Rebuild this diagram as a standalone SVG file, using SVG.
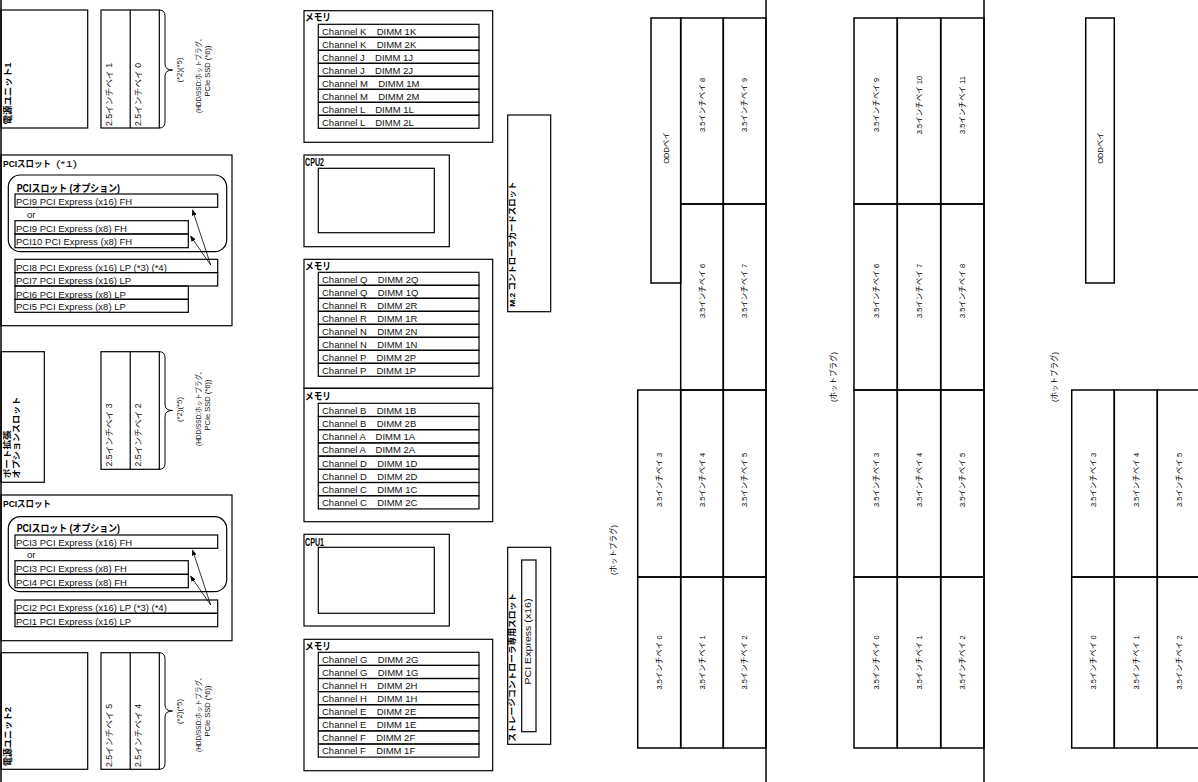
<svg xmlns="http://www.w3.org/2000/svg" width="1198" height="782" viewBox="0 0 1198 782">
<style>
text{font-family:"Liberation Sans","Noto Sans CJK JP",sans-serif;fill:#111}
.bx{fill:none;stroke:#000;stroke-width:1.2}
.bay{fill:none;stroke:#000;stroke-width:1.5}
.ln{stroke:#000;stroke-width:1.5}
.ttl{font-weight:bold;font-size:10px;fill:#000}
.t9{font-weight:bold;font-size:9px;fill:#000}
.vt{font-weight:bold;font-size:8px;fill:#000}
.n{font-size:9.5px}
.n25{font-size:8.5px}
.sm{font-size:6.5px;text-anchor:middle}
.bt{font-size:7.5px;text-anchor:middle;fill:#000}
.ar{stroke:#000;stroke-width:0.8;fill:none}
.brace{stroke:#000;stroke-width:1;fill:none}
</style>
<defs>
<marker id="ah" markerWidth="6" markerHeight="6" refX="5.5" refY="3" orient="auto" markerUnits="userSpaceOnUse"><path d="M0,0.6 L6,3 L0,5.4 Z" fill="#000"/></marker>
</defs>
<line class="ln" x1="1" y1="0" x2="1" y2="782"/>

<g id="psu1"><rect class="bx" x="1" y="10" width="86.7" height="118"/><text class="t9" transform="translate(10.5,124.5) rotate(-90)" textLength="62" lengthAdjust="spacingAndGlyphs">電源ユニット1</text></g>
<g id="bay25-01">
<rect class="bx" x="101" y="10" width="58.3" height="118"/><line class="bx" x1="130.2" y1="10" x2="130.2" y2="128"/>
<text class="n25" transform="translate(111.5,126) rotate(-90)" textLength="63" lengthAdjust="spacingAndGlyphs">2.5インチベイ 1</text>
<text class="n25" transform="translate(140.7,126) rotate(-90)" textLength="63" lengthAdjust="spacingAndGlyphs">2.5インチベイ 0</text>
<path class="brace" d="M159.3,10 Q165,10 165,16 L165,64 Q165,70 172.5,70 Q165,70 165,76 L165,122 Q165,128 159.3,128"/>
<text class="sm" transform="translate(182,70) rotate(-90)" textLength="25" lengthAdjust="spacingAndGlyphs">(*2)(*5)</text>
<text class="sm" transform="translate(201,74) rotate(-90)" textLength="78" lengthAdjust="spacingAndGlyphs">(HDD/SSD:ホットプラグ、</text>
<text class="sm" transform="translate(209.5,71) rotate(-90)" textLength="51" lengthAdjust="spacingAndGlyphs">PCIe SSD (*6))</text>
</g>

<g id="pci-top">
<rect class="bx" x="1" y="155" width="231" height="170.7"/>
<text class="t9" x="3" y="167" textLength="48" lengthAdjust="spacingAndGlyphs">PCIスロット</text>
<text class="n" x="56" y="167" textLength="21" lengthAdjust="spacingAndGlyphs">(*1)</text>
<rect class="bx" x="8.3" y="175" width="218.4" height="76.7" rx="12"/>
<text class="ttl" x="16.7" y="191.5" textLength="103.3" lengthAdjust="spacingAndGlyphs">PCIスロット (オプション)</text>
<rect class="bx" x="15" y="194" width="202.7" height="13.3"/><text class="n" x="16" y="205">PCI9 PCI Express (x16) FH</text>
<text class="n" x="27" y="218">or</text>
<rect class="bx" x="15" y="220.7" width="173.3" height="13.3"/><text class="n" x="16" y="232">PCI9 PCI Express (x8) FH</text>
<rect class="bx" x="15" y="234" width="173.3" height="13.7"/><text class="n" x="16" y="245.3">PCI10 PCI Express (x8) FH</text>
<rect class="bx" x="15" y="259.3" width="202.7" height="13.3"/><text class="n" x="16" y="270.8">PCI8 PCI Express (x16) LP (*3) (*4)</text>
<rect class="bx" x="15" y="272.6" width="202.7" height="13.4"/><text class="n" x="16" y="284">PCI7 PCI Express (x16) LP</text>
<rect class="bx" x="15" y="286" width="173.3" height="13.3"/><text class="n" x="16" y="297.5">PCI6 PCI Express (x8) LP</text>
<rect class="bx" x="15" y="299.3" width="173.3" height="13"/><text class="n" x="16" y="310.3">PCI5 PCI Express (x8) LP</text>
</g>

<g id="port-ext">
<rect class="bx" x="1" y="351.7" width="43.3" height="130.6"/>
<text class="vt" transform="translate(10,478.3) rotate(-90)" textLength="48" lengthAdjust="spacingAndGlyphs">ポート拡張</text>
<text class="vt" transform="translate(19,478.3) rotate(-90)" textLength="81.6" lengthAdjust="spacingAndGlyphs">オプションスロット</text>
</g>
<g id="bay25-23">
<rect class="bx" x="101" y="351.7" width="58.3" height="117.6"/><line class="bx" x1="130.2" y1="351.7" x2="130.2" y2="469.3"/>
<text class="n25" transform="translate(111.5,466.5) rotate(-90)" textLength="63" lengthAdjust="spacingAndGlyphs">2.5インチベイ 3</text>
<text class="n25" transform="translate(140.7,466.5) rotate(-90)" textLength="63" lengthAdjust="spacingAndGlyphs">2.5インチベイ 2</text>
<path class="brace" d="M159.3,351.7 Q165,351.7 165,357.7 L165,404.5 Q165,410.5 172.5,410.5 Q165,410.5 165,416.5 L165,463.3 Q165,469.3 159.3,469.3"/>
<text class="sm" transform="translate(182,409.5) rotate(-90)" textLength="25" lengthAdjust="spacingAndGlyphs">(*2)(*5)</text>
<text class="sm" transform="translate(201,407) rotate(-90)" textLength="78" lengthAdjust="spacingAndGlyphs">(HDD/SSD:ホットプラグ、</text>
<text class="sm" transform="translate(209.5,405) rotate(-90)" textLength="51" lengthAdjust="spacingAndGlyphs">PCIe SSD (*6))</text>
</g>

<g id="pci-bottom">
<rect class="bx" x="1" y="495" width="231" height="145.7"/>
<text class="t9" x="3" y="507" textLength="48" lengthAdjust="spacingAndGlyphs">PCIスロット</text>
<rect class="bx" x="8.3" y="516.7" width="218.4" height="75" rx="12"/>
<text class="ttl" x="16.7" y="531.7" textLength="103.3" lengthAdjust="spacingAndGlyphs">PCIスロット (オプション)</text>
<rect class="bx" x="15" y="535" width="202.7" height="13.3"/><text class="n" x="16" y="546.2">PCI3 PCI Express (x16) FH</text>
<text class="n" x="27" y="558.3">or</text>
<rect class="bx" x="15" y="560.7" width="173.3" height="13.6"/><text class="n" x="16" y="572.2">PCI3 PCI Express (x8) FH</text>
<rect class="bx" x="15" y="574.3" width="173.3" height="13.4"/><text class="n" x="16" y="585.7">PCI4 PCI Express (x8) FH</text>
<rect class="bx" x="15" y="600" width="202.7" height="13.3"/><text class="n" x="16" y="611.3">PCI2 PCI Express (x16) LP (*3) (*4)</text>
<rect class="bx" x="15" y="613.3" width="202.7" height="13.4"/><text class="n" x="16" y="624.7">PCI1 PCI Express (x16) LP</text>
</g>

<g id="psu2"><rect class="bx" x="1" y="652.7" width="86.7" height="116.6"/><text class="t9" transform="translate(10.5,766) rotate(-90)" textLength="59" lengthAdjust="spacingAndGlyphs">電源ユニット2</text></g>
<g id="bay25-45">
<rect class="bx" x="101" y="652.7" width="58.3" height="116.6"/><line class="bx" x1="130.2" y1="652.7" x2="130.2" y2="769.3"/>
<text class="n25" transform="translate(111.5,767) rotate(-90)" textLength="63" lengthAdjust="spacingAndGlyphs">2.5インチベイ 5</text>
<text class="n25" transform="translate(140.7,767) rotate(-90)" textLength="63" lengthAdjust="spacingAndGlyphs">2.5インチベイ 4</text>
<path class="brace" d="M159.3,652.7 Q165,652.7 165,658.7 L165,705 Q165,711 172.5,711 Q165,711 165,717 L165,763.3 Q165,769.3 159.3,769.3"/>
<text class="sm" transform="translate(182,711.5) rotate(-90)" textLength="25" lengthAdjust="spacingAndGlyphs">(*2)(*5)</text>
<text class="sm" transform="translate(201,713) rotate(-90)" textLength="78" lengthAdjust="spacingAndGlyphs">(HDD/SSD:ホットプラグ、</text>
<text class="sm" transform="translate(209.5,711) rotate(-90)" textLength="51" lengthAdjust="spacingAndGlyphs">PCIe SSD (*6))</text>
</g>

<g id="mem1">
<rect class="bx" x="304" y="10.7" width="188.7" height="131.6"/>
<text class="ttl" x="305" y="21" textLength="26" lengthAdjust="spacingAndGlyphs">メモリ</text>
<rect class="bx" x="318.3" y="24.3" width="160.7" height="13"/><text class="n" x="322" y="34.6" xml:space="preserve">Channel K  <tspan dx="5">DIMM 1K</tspan></text>
<rect class="bx" x="318.3" y="37.3" width="160.7" height="13"/><text class="n" x="322" y="47.6" xml:space="preserve">Channel K  <tspan dx="5">DIMM 2K</tspan></text>
<rect class="bx" x="318.3" y="50.3" width="160.7" height="13"/><text class="n" x="322" y="60.6" xml:space="preserve">Channel J  <tspan dx="5">DIMM 1J</tspan></text>
<rect class="bx" x="318.3" y="63.3" width="160.7" height="13"/><text class="n" x="322" y="73.6" xml:space="preserve">Channel J  <tspan dx="5">DIMM 2J</tspan></text>
<rect class="bx" x="318.3" y="76.3" width="160.7" height="13"/><text class="n" x="322" y="86.6" xml:space="preserve">Channel M  <tspan dx="5">DIMM 1M</tspan></text>
<rect class="bx" x="318.3" y="89.3" width="160.7" height="13"/><text class="n" x="322" y="99.6" xml:space="preserve">Channel M  <tspan dx="5">DIMM 2M</tspan></text>
<rect class="bx" x="318.3" y="102.3" width="160.7" height="13"/><text class="n" x="322" y="112.6" xml:space="preserve">Channel L  <tspan dx="5">DIMM 1L</tspan></text>
<rect class="bx" x="318.3" y="115.3" width="160.7" height="13"/><text class="n" x="322" y="125.6" xml:space="preserve">Channel L  <tspan dx="5">DIMM 2L</tspan></text>
</g>

<g id="cpu2">
<rect class="bx" x="304" y="155" width="145.3" height="91.7"/>
<text class="ttl" x="305" y="166" textLength="19" lengthAdjust="spacingAndGlyphs">CPU2</text>
<rect class="bx" x="318.3" y="168.3" width="116" height="64.4"/>
</g>

<g id="mem2">
<rect class="bx" x="304" y="259.3" width="188.7" height="129"/>
<text class="ttl" x="305" y="269.5" textLength="26" lengthAdjust="spacingAndGlyphs">メモリ</text>
<rect class="bx" x="318.3" y="272.3" width="160.7" height="13"/><text class="n" x="322" y="282.6" xml:space="preserve">Channel Q  <tspan dx="5">DIMM 2Q</tspan></text>
<rect class="bx" x="318.3" y="285.3" width="160.7" height="13"/><text class="n" x="322" y="295.6" xml:space="preserve">Channel Q  <tspan dx="5">DIMM 1Q</tspan></text>
<rect class="bx" x="318.3" y="298.3" width="160.7" height="13"/><text class="n" x="322" y="308.6" xml:space="preserve">Channel R  <tspan dx="5">DIMM 2R</tspan></text>
<rect class="bx" x="318.3" y="311.3" width="160.7" height="13"/><text class="n" x="322" y="321.6" xml:space="preserve">Channel R  <tspan dx="5">DIMM 1R</tspan></text>
<rect class="bx" x="318.3" y="324.3" width="160.7" height="13"/><text class="n" x="322" y="334.6" xml:space="preserve">Channel N  <tspan dx="5">DIMM 2N</tspan></text>
<rect class="bx" x="318.3" y="337.3" width="160.7" height="13"/><text class="n" x="322" y="347.6" xml:space="preserve">Channel N  <tspan dx="5">DIMM 1N</tspan></text>
<rect class="bx" x="318.3" y="350.3" width="160.7" height="13"/><text class="n" x="322" y="360.6" xml:space="preserve">Channel P  <tspan dx="5">DIMM 2P</tspan></text>
<rect class="bx" x="318.3" y="363.3" width="160.7" height="13"/><text class="n" x="322" y="373.6" xml:space="preserve">Channel P  <tspan dx="5">DIMM 1P</tspan></text>
</g>

<g id="mem3">
<rect class="bx" x="304" y="388.3" width="188.7" height="133.4"/>
<text class="ttl" x="305" y="400" textLength="26" lengthAdjust="spacingAndGlyphs">メモリ</text>
<rect class="bx" x="318.3" y="403.3" width="160.7" height="13.2"/><text class="n" x="322" y="413.7" xml:space="preserve">Channel B  <tspan dx="5">DIMM 1B</tspan></text>
<rect class="bx" x="318.3" y="416.5" width="160.7" height="13.2"/><text class="n" x="322" y="426.9" xml:space="preserve">Channel B  <tspan dx="5">DIMM 2B</tspan></text>
<rect class="bx" x="318.3" y="429.7" width="160.7" height="13.2"/><text class="n" x="322" y="440.1" xml:space="preserve">Channel A  <tspan dx="5">DIMM 1A</tspan></text>
<rect class="bx" x="318.3" y="442.9" width="160.7" height="13.2"/><text class="n" x="322" y="453.3" xml:space="preserve">Channel A  <tspan dx="5">DIMM 2A</tspan></text>
<rect class="bx" x="318.3" y="456.1" width="160.7" height="13.2"/><text class="n" x="322" y="466.5" xml:space="preserve">Channel D  <tspan dx="5">DIMM 1D</tspan></text>
<rect class="bx" x="318.3" y="469.3" width="160.7" height="13.2"/><text class="n" x="322" y="479.7" xml:space="preserve">Channel D  <tspan dx="5">DIMM 2D</tspan></text>
<rect class="bx" x="318.3" y="482.5" width="160.7" height="13.2"/><text class="n" x="322" y="492.9" xml:space="preserve">Channel C  <tspan dx="5">DIMM 1C</tspan></text>
<rect class="bx" x="318.3" y="495.7" width="160.7" height="13.2"/><text class="n" x="322" y="506.1" xml:space="preserve">Channel C  <tspan dx="5">DIMM 2C</tspan></text>
</g>

<g id="cpu1">
<rect class="bx" x="304" y="534.3" width="145.3" height="91.7"/>
<text class="ttl" x="305" y="545.7" textLength="19" lengthAdjust="spacingAndGlyphs">CPU1</text>
<rect class="bx" x="318.3" y="547.3" width="116" height="66"/>
</g>

<g id="mem4">
<rect class="bx" x="304" y="639.3" width="188.7" height="131.4"/>
<text class="ttl" x="305" y="649.5" textLength="26" lengthAdjust="spacingAndGlyphs">メモリ</text>
<rect class="bx" x="318.3" y="652.3" width="160.7" height="13.1"/><text class="n" x="322" y="662.7" xml:space="preserve">Channel G  <tspan dx="5">DIMM 2G</tspan></text>
<rect class="bx" x="318.3" y="665.4" width="160.7" height="13.1"/><text class="n" x="322" y="675.8" xml:space="preserve">Channel G  <tspan dx="5">DIMM 1G</tspan></text>
<rect class="bx" x="318.3" y="678.5" width="160.7" height="13.1"/><text class="n" x="322" y="688.9" xml:space="preserve">Channel H  <tspan dx="5">DIMM 2H</tspan></text>
<rect class="bx" x="318.3" y="691.6" width="160.7" height="13.1"/><text class="n" x="322" y="702" xml:space="preserve">Channel H  <tspan dx="5">DIMM 1H</tspan></text>
<rect class="bx" x="318.3" y="704.7" width="160.7" height="13.1"/><text class="n" x="322" y="715.1" xml:space="preserve">Channel E  <tspan dx="5">DIMM 2E</tspan></text>
<rect class="bx" x="318.3" y="717.8" width="160.7" height="13.1"/><text class="n" x="322" y="728.2" xml:space="preserve">Channel E  <tspan dx="5">DIMM 1E</tspan></text>
<rect class="bx" x="318.3" y="730.9" width="160.7" height="13.1"/><text class="n" x="322" y="741.3" xml:space="preserve">Channel F  <tspan dx="5">DIMM 2F</tspan></text>
<rect class="bx" x="318.3" y="744" width="160.7" height="13.1"/><text class="n" x="322" y="754.4" xml:space="preserve">Channel F  <tspan dx="5">DIMM 1F</tspan></text>
</g>

<g id="m2-slot">
<rect class="bx" x="507.7" y="115" width="43" height="196.7"/>
<text class="vt" transform="translate(515,306.7) rotate(-90)" textLength="125" lengthAdjust="spacingAndGlyphs">M.2 コントローラカードスロット</text>
</g>

<g id="storage-slot">
<rect class="bx" x="507.7" y="547.3" width="43" height="197"/>
<text class="vt" transform="translate(515,741.7) rotate(-90)" textLength="148.7" lengthAdjust="spacingAndGlyphs">ストレージコントローラ専用スロット</text>
<rect class="bx" x="521.7" y="560" width="14.3" height="171.7"/>
<text class="n" text-anchor="middle" transform="translate(531,641.5) rotate(-90)" textLength="86" lengthAdjust="spacingAndGlyphs">PCI Express (x16)</text>
</g>

<g id="cage1">
<line class="ln" x1="766" y1="0" x2="766" y2="782"/>
<rect class="bay" x="651" y="18" width="29.7" height="265"/><text class="bt" transform="translate(668.6,148) rotate(-90)">ODDベイ</text>
<rect class="bay" x="680.7" y="18" width="42.6" height="186"/><text class="bt" transform="translate(704.8,105) rotate(-90)">3.5インチベイ 8</text>
<rect class="bay" x="723.3" y="18" width="42.7" height="186"/><text class="bt" transform="translate(747.4,105) rotate(-90)">3.5インチベイ 9</text>
<rect class="bay" x="680.7" y="204" width="42.6" height="186"/><text class="bt" transform="translate(704.8,291) rotate(-90)">3.5インチベイ 6</text>
<rect class="bay" x="723.3" y="204" width="42.7" height="186"/><text class="bt" transform="translate(747.4,291) rotate(-90)">3.5インチベイ 7</text>
<rect class="bay" x="637.7" y="390" width="43" height="187"/><text class="bt" transform="translate(662,480) rotate(-90)">3.5インチベイ 3</text>
<rect class="bay" x="680.7" y="390" width="42.6" height="187"/><text class="bt" transform="translate(704.8,480) rotate(-90)">3.5インチベイ 4</text>
<rect class="bay" x="723.3" y="390" width="42.7" height="187"/><text class="bt" transform="translate(747.4,480) rotate(-90)">3.5インチベイ 5</text>
<rect class="bay" x="637.7" y="577" width="43" height="171"/><text class="bt" transform="translate(662,662.5) rotate(-90)">3.5インチベイ 0</text>
<rect class="bay" x="680.7" y="577" width="42.6" height="171"/><text class="bt" transform="translate(704.8,662.5) rotate(-90)">3.5インチベイ 1</text>
<rect class="bay" x="723.3" y="577" width="42.7" height="171"/><text class="bt" transform="translate(747.4,662.5) rotate(-90)">3.5インチベイ 2</text>
<text class="bt" transform="translate(616.4,550) rotate(-90)">(ホットプラグ)</text>
</g>

<g id="cage2">
<line class="ln" x1="984" y1="0" x2="984" y2="782"/>
<rect class="bay" x="854" y="18" width="43.3" height="186"/><text class="bt" transform="translate(878.5,105) rotate(-90)">3.5インチベイ 9</text>
<rect class="bay" x="897.3" y="18" width="43.4" height="186"/><text class="bt" transform="translate(921.8,105) rotate(-90)">3.5インチベイ 10</text>
<rect class="bay" x="940.7" y="18" width="43.3" height="186"/><text class="bt" transform="translate(965.1,105) rotate(-90)">3.5インチベイ 11</text>
<rect class="bay" x="854" y="204" width="43.3" height="186"/><text class="bt" transform="translate(878.5,291) rotate(-90)">3.5インチベイ 6</text>
<rect class="bay" x="897.3" y="204" width="43.4" height="186"/><text class="bt" transform="translate(921.8,291) rotate(-90)">3.5インチベイ 7</text>
<rect class="bay" x="940.7" y="204" width="43.3" height="186"/><text class="bt" transform="translate(965.1,291) rotate(-90)">3.5インチベイ 8</text>
<rect class="bay" x="854" y="390" width="43.3" height="187"/><text class="bt" transform="translate(878.5,480) rotate(-90)">3.5インチベイ 3</text>
<rect class="bay" x="897.3" y="390" width="43.4" height="187"/><text class="bt" transform="translate(921.8,480) rotate(-90)">3.5インチベイ 4</text>
<rect class="bay" x="940.7" y="390" width="43.3" height="187"/><text class="bt" transform="translate(965.1,480) rotate(-90)">3.5インチベイ 5</text>
<rect class="bay" x="854" y="577" width="43.3" height="171"/><text class="bt" transform="translate(878.5,662.5) rotate(-90)">3.5インチベイ 0</text>
<rect class="bay" x="897.3" y="577" width="43.4" height="171"/><text class="bt" transform="translate(921.8,662.5) rotate(-90)">3.5インチベイ 1</text>
<rect class="bay" x="940.7" y="577" width="43.3" height="171"/><text class="bt" transform="translate(965.1,662.5) rotate(-90)">3.5インチベイ 2</text>
<text class="bt" transform="translate(836.4,377) rotate(-90)">(ホットプラグ)</text>
</g>

<g id="cage3">
<rect class="bay" x="1085.7" y="18" width="28.6" height="265"/><text class="bt" transform="translate(1102.8,148) rotate(-90)">ODDベイ</text>
<rect class="bay" x="1071.7" y="390" width="42.6" height="187"/><text class="bt" transform="translate(1095.8,480) rotate(-90)">3.5インチベイ 3</text>
<rect class="bay" x="1114.3" y="390" width="43" height="187"/><text class="bt" transform="translate(1138.6,480) rotate(-90)">3.5インチベイ 4</text>
<rect class="bay" x="1157.3" y="390" width="43" height="187"/><text class="bt" transform="translate(1181.5,480) rotate(-90)">3.5インチベイ 5</text>
<rect class="bay" x="1071.7" y="577" width="42.6" height="171"/><text class="bt" transform="translate(1095.8,662.5) rotate(-90)">3.5インチベイ 0</text>
<rect class="bay" x="1114.3" y="577" width="43" height="171"/><text class="bt" transform="translate(1138.6,662.5) rotate(-90)">3.5インチベイ 1</text>
<rect class="bay" x="1157.3" y="577" width="43" height="171"/><text class="bt" transform="translate(1181.5,662.5) rotate(-90)">3.5インチベイ 2</text>
<text class="bt" transform="translate(1056.7,377) rotate(-90)">(ホットプラグ)</text>
</g>

<g id="connectors">
<path class="ar" d="M210.7,265 L192.5,210" marker-end="url(#ah)"/>
<path class="ar" d="M210.7,265 L190.5,236" marker-end="url(#ah)"/>
<path class="ar" d="M210.7,605 L192.5,550" marker-end="url(#ah)"/>
<path class="ar" d="M210.7,605 L190.5,576" marker-end="url(#ah)"/>
</g>
</svg>
